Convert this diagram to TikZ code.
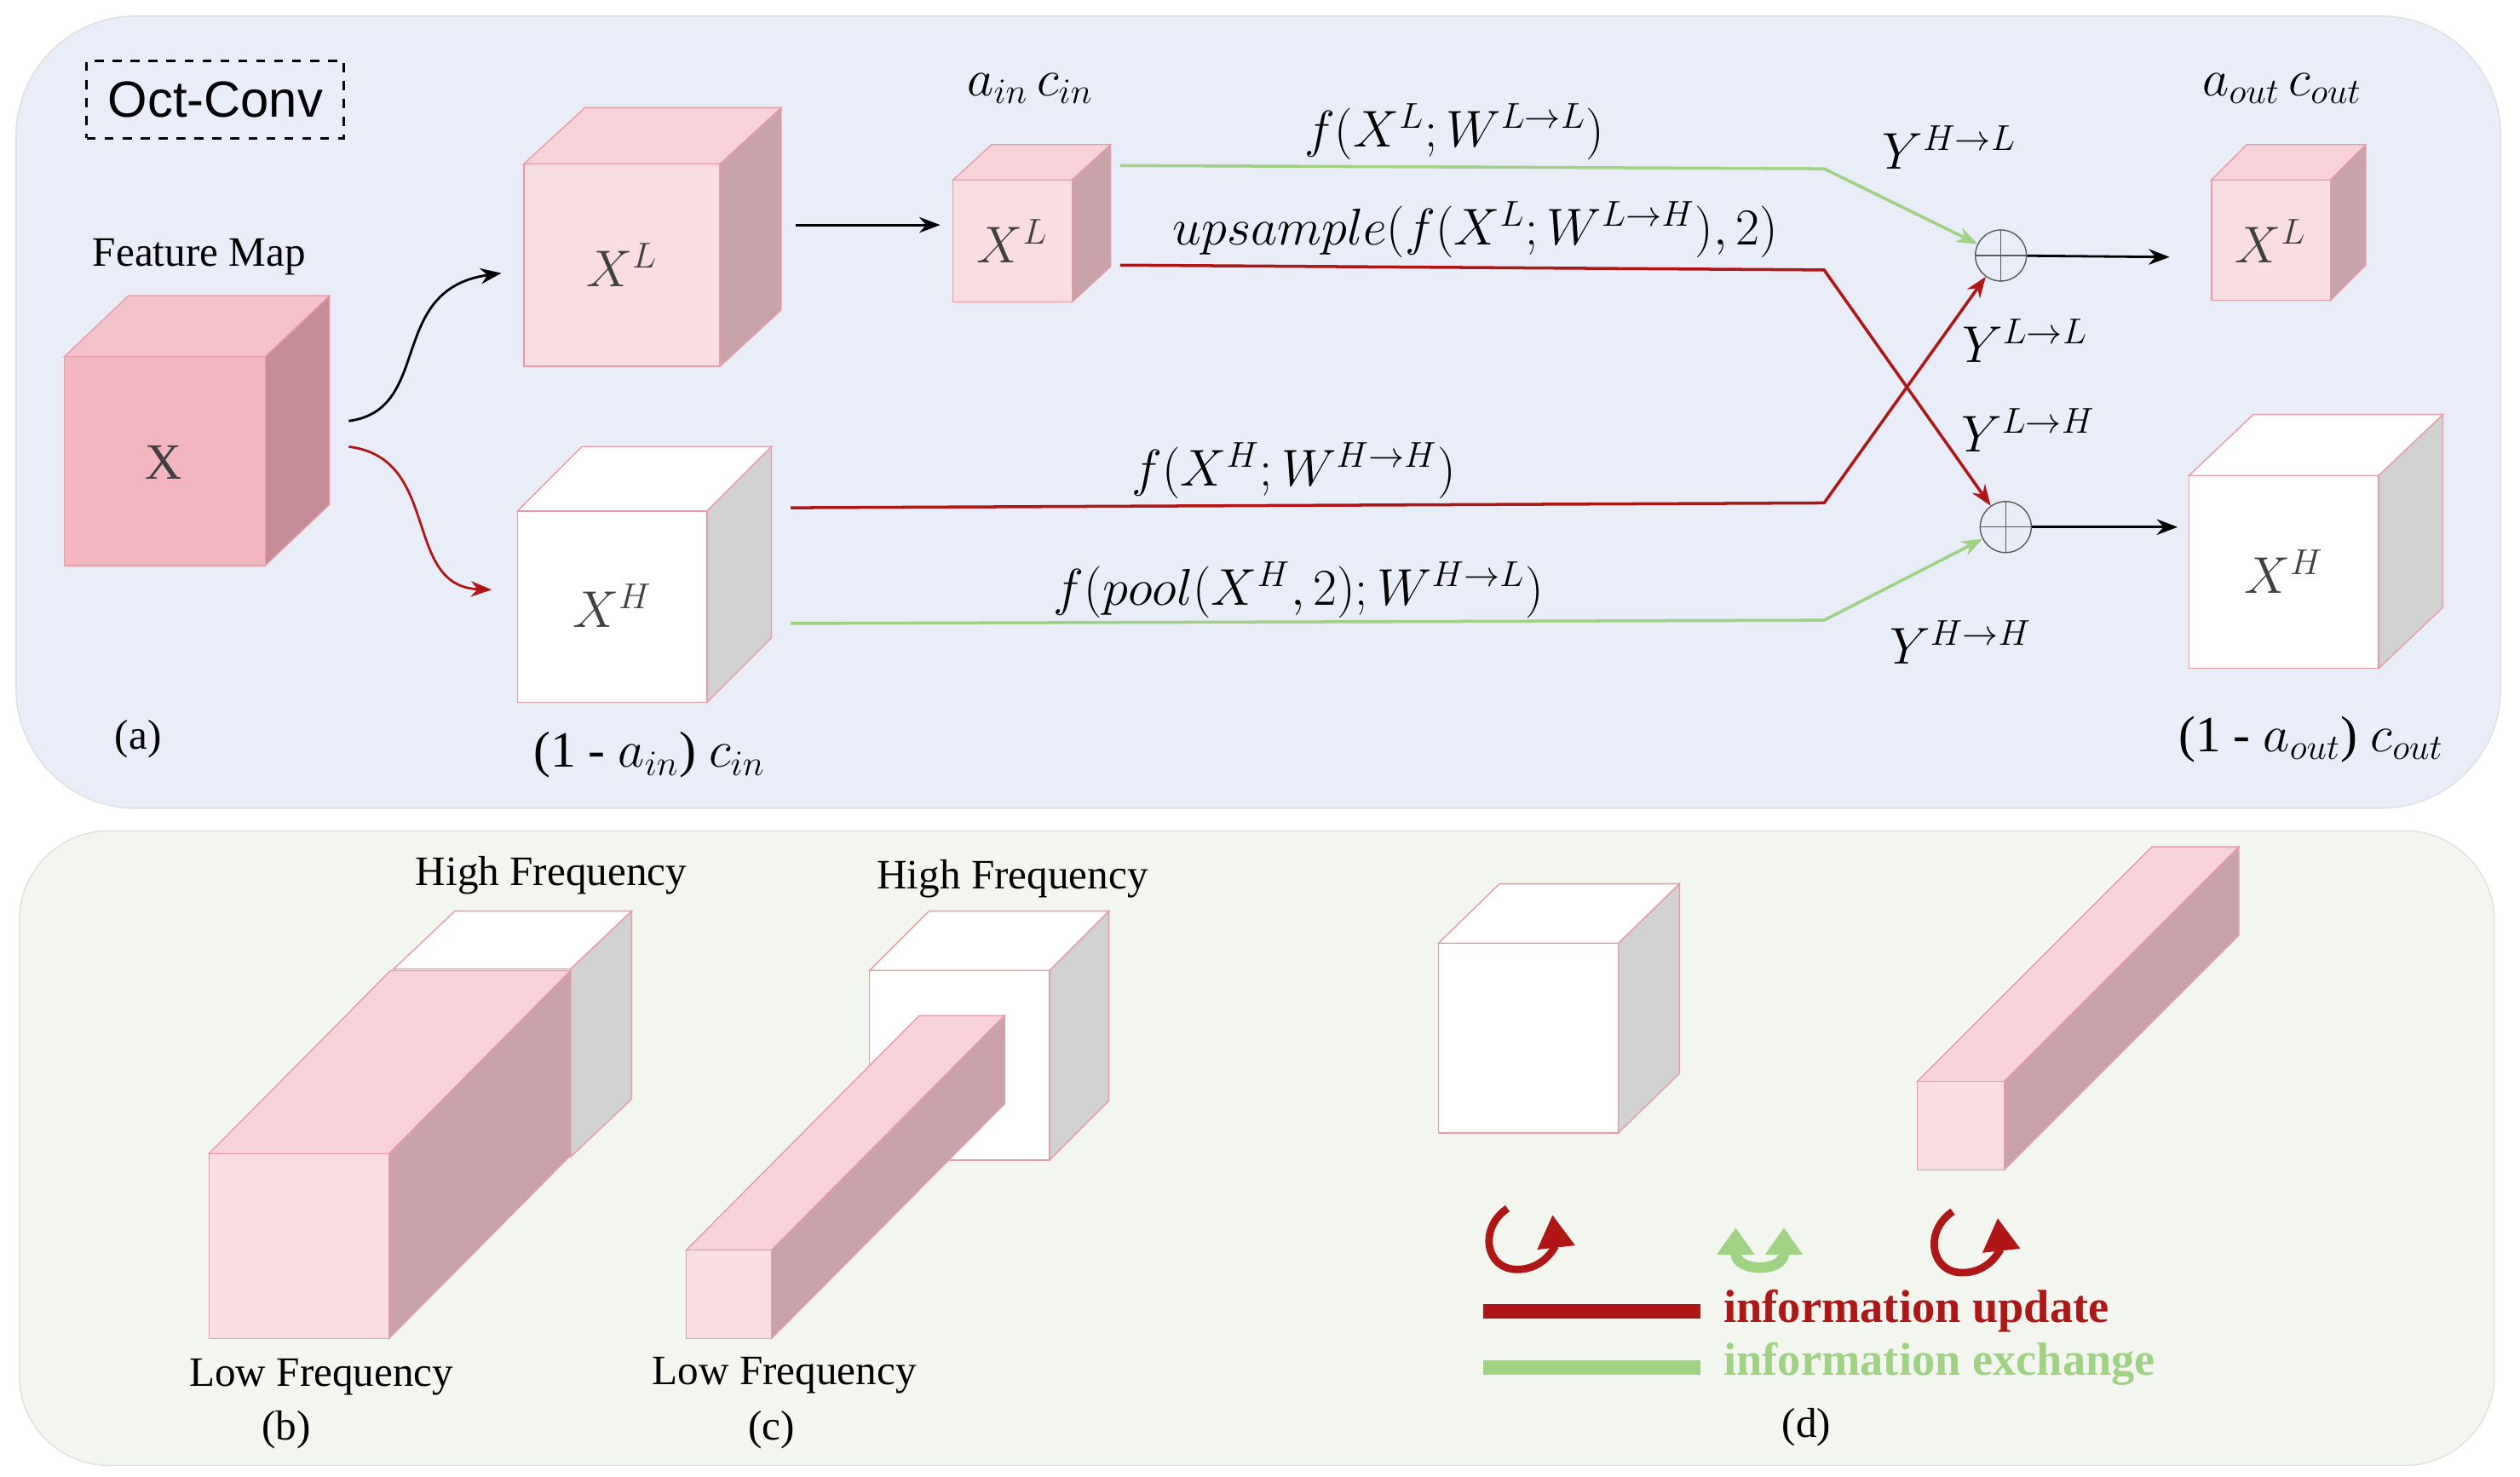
\documentclass[tikz,border=0pt]{standalone}
\usepackage{fontspec}
\setmainfont{Liberation Serif}
\newfontfamily\sansf{Liberation Sans}
\usetikzlibrary{arrows.meta}
\definecolor{bgtop}{HTML}{E9EDF7}
\definecolor{bgbot}{HTML}{F2F6EF}
\definecolor{pkedge}{HTML}{E89AA6}
\definecolor{pkfront}{HTML}{F9DDE2}
\definecolor{pktop}{HTML}{F8D3DA}
\definecolor{pkside}{HTML}{C9A3A9}
\definecolor{xfront}{HTML}{F2B6C0}
\definecolor{xtop}{HTML}{F3C3CB}
\definecolor{xside}{HTML}{C48E98}
\definecolor{grside}{HTML}{D2D2D2}
\definecolor{darkred}{HTML}{B01616}
\definecolor{lgreen}{HTML}{9FD283}
\tikzset{
  lbl/.style={font=\fontsize{14}{16}\selectfont},
  mlbl/.style={font=\fontsize{17}{20}\selectfont},
  redln/.style={darkred, line width=1pt},
  grnln/.style={lgreen, line width=1pt},
  oplus/.style={circle, draw=gray!70!black, minimum size=0.6cm, inner sep=0pt},
  upd arrow/.style={darkred, line width=2.5pt, -{Triangle[length=11pt,width=12pt]}},
  exc arrow/.style={lgreen, line width=3.5pt, {Triangle[length=9pt,width=12pt]}-{Triangle[length=9pt,width=12pt]}},
}
% cube: front corner (x1,y1)-(x2,y2), depth offset (dx,dy), colours front/top/side
\newcommand{\boxcube}[9]{%
  \draw[pkedge, fill=#8] (#3,#2) -- ++(#5,#6) -- ++(0,#4-#2) -- (#3,#4) -- cycle;
  \draw[pkedge, fill=#9] (#1,#2) -- ++(#5,#6) -- ++(#3-#1,0) -- (#3,#2) -- cycle;
  \draw[pkedge, fill=#7] (#1,#2) rectangle (#3,#4);
}
\begin{document}
\begin{tikzpicture}[x=0.01887cm, y=-0.01887cm, >={Stealth[length=7pt]}]
\useasboundingbox (0,0) rectangle (1568,919);
% Panels
\fill[bgtop, draw=gray!25, rounded corners=40pt] (10,10) rectangle (1556,503);
\fill[bgbot, draw=gray!25, rounded corners=30pt] (12,517) rectangle (1552,912);
\node[draw, dashed, thick, minimum width=160*0.01887cm, minimum height=48*0.01887cm,
  font=\sansf\fontsize{17}{20}\selectfont] (octconv) at (134,62) {Oct-Conv};

% Cubes (a)
\boxcube{40}{222}{165}{352}{40}{-38}{xfront}{xside}{xtop}
\boxcube{326}{102}{448}{228}{38}{-35}{pkfront}{pkside}{pktop}
\boxcube{322}{318}{440}{437}{40}{-40}{white}{grside}{white}
\boxcube{593}{112}{667}{188}{24}{-22}{pkfront}{pkside}{pktop}
\boxcube{1376}{112}{1450}{187}{22}{-22}{pkfront}{pkside}{pktop}
\boxcube{1362}{296}{1480}{416}{40}{-38}{white}{grside}{white}

\node[mlbl, text=black!75] (x) at (102,288) {X};
\node[mlbl, text=black!75] (xl1) at (387,165) {$X^L$};
\node[mlbl, text=black!75] (xh1) at (381,377) {$X^H$};
\node[mlbl, text=black!75] (xl2) at (630,150) {$X^L$};
\node[mlbl, text=black!75] (xl3) at (1413,150) {$X^L$};
\node[mlbl, text=black!75] (xh3) at (1421,356) {$X^H$};
\node[lbl] (fmap) at (124,160) {Feature Map};
\node[lbl] (a) at (86,460) {(a)};

% Sums
\node[oplus] (sumL) at (1245,159) {};
\draw[gray!70!black] (sumL.north) -- (sumL.south) (sumL.west) -- (sumL.east);
\node[oplus] (sumH) at (1248,328) {};
\draw[gray!70!black] (sumH.north) -- (sumH.south) (sumH.west) -- (sumH.east);
\coordinate (outL) at (1350,160);
\coordinate (outH) at (1355,328);

% Arrows
\draw[->, thick] (217,262) .. controls (270,255) and (240,180) .. (312,170);
\draw[->, darkred, thick] (217,278) .. controls (275,285) and (250,365) .. (306,367);
\draw[->, thick] (495,140) -- (585,140);
\draw[->, grnln] (697,103) -- (1135,105) -- (sumL);
\draw[->, redln] (697,165) -- (1135,168) -- (sumH);
\draw[->, redln] (492,316) -- (1135,313) -- (sumL);
\draw[->, grnln] (492,388) -- (1135,386) -- (sumH);
\draw[->, thick] (sumL) -- (outL);
\draw[->, thick] (sumH) -- (outH);

% Labels
\node[mlbl] (ain) at (641,55) {$a_{in}\,c_{in}$};
\node[mlbl] (aout) at (1420,55) {$a_{out}\,c_{out}$};
\node[mlbl] (fll) at (905,82) {$f(X^L;W^{L\to L})$};
\node[mlbl] (flh) at (918,143) {$upsample(f(X^L;W^{L\to H}),2)$};
\node[mlbl] (fhh) at (805,293) {$f(X^H;W^{H\to H})$};
\node[mlbl] (fhl) at (808,367) {$f(pool(X^H,2);W^{H\to L})$};
\node[mlbl] (yhl) at (1213,92) {$Y^{H\to L}$};
\node[mlbl] (yll) at (1260,212) {$Y^{L\to L}$};
\node[mlbl] (ylh) at (1262,268) {$Y^{L\to H}$};
\node[mlbl] (yhh) at (1220,400) {$Y^{H\to H}$};
\node[mlbl] (cin) at (404,470) {(1 - $a_{in}$) $c_{in}$};
\node[mlbl] (cout) at (1438,460) {(1 - $a_{out}$) $c_{out}$};

% (b)
\boxcube{245}{603}{355}{720}{38}{-36}{white}{grside}{white}
\boxcube{130}{718}{242}{833}{113}{-114}{pkfront}{pkside}{pktop}
\node[lbl] (hfb) at (343,545) {High Frequency};
\node[lbl] (lfb) at (200,857) {Low Frequency};
\node[lbl] (b) at (178,890) {(b)};

% (c)
\boxcube{541}{604}{653}{722}{37}{-37}{white}{grside}{white}
\boxcube{427}{778}{480}{833}{145}{-146}{pkfront}{pkside}{pktop}
\node[lbl] (hfc) at (630,547) {High Frequency};
\node[lbl] (lfc) at (488,856) {Low Frequency};
\node[lbl] (c) at (480,890) {(c)};

% (d)
\boxcube{895}{587}{1007}{705}{38}{-37}{white}{grside}{white}
\boxcube{1193}{673}{1247}{728}{146}{-146}{pkfront}{pkside}{pktop}
\draw[upd arrow] (938,752) .. controls (920,764) and (924,790) .. (944,790)
  .. controls (962,790) and (968,774) .. (966,756);
\draw[upd arrow] (1215,754) .. controls (1197,766) and (1201,792) .. (1221,792)
  .. controls (1239,792) and (1245,776) .. (1243,758);
\draw[exc arrow] (1080,764) .. controls (1080,792) and (1110,792) .. (1110,764);
\coordinate (ru1) at (923,816);
\coordinate (ru2) at (1058,816);
\coordinate (ge1) at (923,851);
\coordinate (ge2) at (1058,851);
\draw[darkred, line width=5pt] (ru1) -- (ru2);
\draw[lgreen, line width=5pt] (ge1) -- (ge2);
\node[anchor=west, text=darkred, font=\bfseries\fontsize{15.5}{18}\selectfont] (upd) at (1066,816) {information update};
\node[anchor=west, text=lgreen, font=\bfseries\fontsize{15.5}{18}\selectfont] (exc) at (1066,849) {information exchange};
\node[lbl] (d) at (1124,888) {(d)};
\end{tikzpicture}
\end{document}
